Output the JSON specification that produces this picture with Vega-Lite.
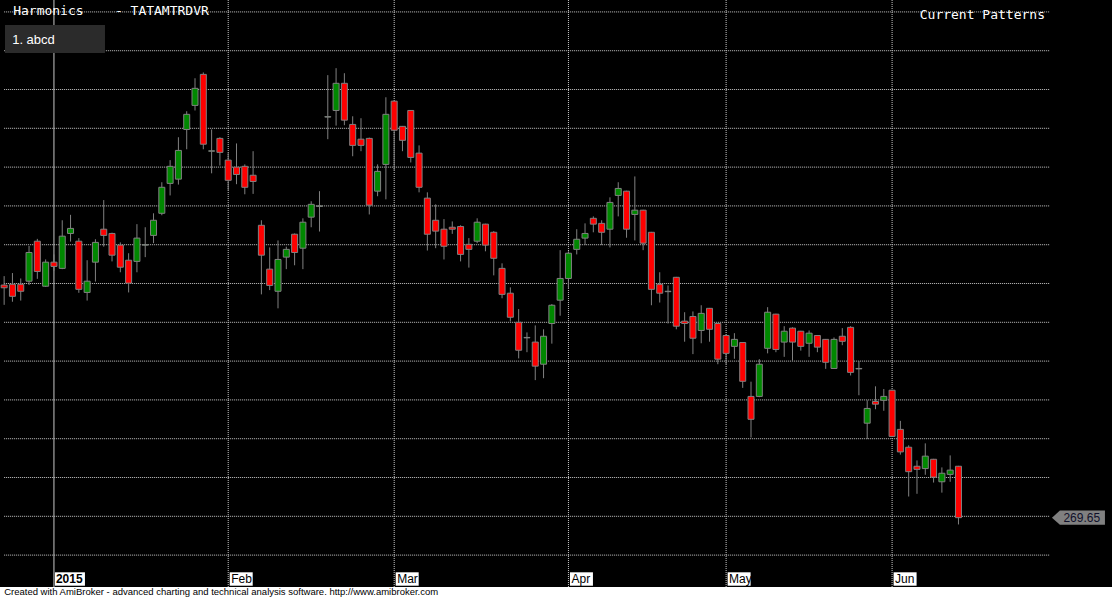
{
"$schema": "https://vega.github.io/schema/vega-lite/v6.json",
"width": 1112, "height": 587,
"autosize": {"type": "none"},
"padding": {"left": 0, "top": 0, "right": 0, "bottom": 12},
"background": "#ffffff",
"config": {"view": {"fill": "#000000", "stroke": null}},
"data": {"values": [
{"d":"2014-12-23","o":329.6,"h":331.9,"l":324.5,"c":328.9},
{"d":"2014-12-24","o":329.8,"h":332.7,"l":325.3,"c":326.7},
{"d":"2014-12-26","o":329.8,"h":331.3,"l":325.6,"c":328.0},
{"d":"2014-12-29","o":330.6,"h":339.7,"l":329.6,"c":338.0},
{"d":"2014-12-30","o":340.9,"h":341.5,"l":331.2,"c":333.1},
{"d":"2014-12-31","o":329.3,"h":336.2,"l":329.1,"c":335.5},
{"d":"2015-01-01","o":335.5,"h":337.5,"l":333.3,"c":334.4},
{"d":"2015-01-02","o":333.9,"h":346.3,"l":333.7,"c":342.2},
{"d":"2015-01-05","o":342.9,"h":347.7,"l":340.8,"c":344.2},
{"d":"2015-01-06","o":340.9,"h":341.7,"l":327.6,"c":328.5},
{"d":"2015-01-07","o":327.7,"h":336.0,"l":325.6,"c":330.6},
{"d":"2015-01-08","o":335.5,"h":341.4,"l":330.5,"c":340.6},
{"d":"2015-01-09","o":344.0,"h":351.5,"l":339.5,"c":342.4},
{"d":"2015-01-12","o":342.9,"h":343.1,"l":335.7,"c":337.3},
{"d":"2015-01-13","o":339.9,"h":340.6,"l":332.9,"c":334.2},
{"d":"2015-01-14","o":336.0,"h":337.8,"l":327.7,"c":330.1},
{"d":"2015-01-15","o":335.7,"h":345.3,"l":332.9,"c":341.7},
{"d":"2015-01-16","o":339.9,"h":344.5,"l":336.8,"c":340.0},
{"d":"2015-01-19","o":342.4,"h":348.1,"l":340.4,"c":346.3},
{"d":"2015-01-20","o":348.1,"h":356.1,"l":347.6,"c":354.8},
{"d":"2015-01-21","o":355.8,"h":361.8,"l":352.7,"c":360.2},
{"d":"2015-01-22","o":356.9,"h":367.7,"l":355.5,"c":364.3},
{"d":"2015-01-23","o":369.7,"h":374.4,"l":364.6,"c":373.6},
{"d":"2015-01-27","o":375.9,"h":382.9,"l":374.6,"c":380.3},
{"d":"2015-01-28","o":383.9,"h":384.4,"l":364.6,"c":365.9},
{"d":"2015-01-29","o":364.1,"h":369.7,"l":358.4,"c":364.2},
{"d":"2015-01-30","o":367.4,"h":367.7,"l":360.4,"c":363.8},
{"d":"2015-02-02","o":361.8,"h":363.6,"l":354.0,"c":356.6},
{"d":"2015-02-03","o":360.0,"h":366.1,"l":355.6,"c":358.1},
{"d":"2015-02-04","o":360.2,"h":360.7,"l":353.0,"c":354.8},
{"d":"2015-02-05","o":357.9,"h":364.1,"l":353.1,"c":356.3},
{"d":"2015-02-06","o":345.0,"h":346.3,"l":327.2,"c":337.3},
{"d":"2015-02-09","o":333.7,"h":339.3,"l":328.3,"c":329.5},
{"d":"2015-02-10","o":328.0,"h":341.1,"l":323.6,"c":336.2},
{"d":"2015-02-11","o":336.8,"h":339.5,"l":333.7,"c":338.8},
{"d":"2015-02-12","o":342.7,"h":342.9,"l":334.7,"c":338.0},
{"d":"2015-02-13","o":339.1,"h":346.8,"l":333.7,"c":345.8},
{"d":"2015-02-16","o":347.1,"h":351.2,"l":344.5,"c":350.4},
{"d":"2015-02-18","o":349.9,"h":353.8,"l":343.4,"c":350.0},
{"d":"2015-02-19","o":372.9,"h":383.7,"l":367.2,"c":373.0},
{"d":"2015-02-20","o":374.6,"h":385.5,"l":370.7,"c":381.6},
{"d":"2015-02-23","o":381.6,"h":384.2,"l":370.8,"c":372.1},
{"d":"2015-02-24","o":371.0,"h":373.1,"l":362.8,"c":365.6},
{"d":"2015-02-25","o":367.2,"h":372.6,"l":364.1,"c":365.6},
{"d":"2015-02-26","o":367.4,"h":367.6,"l":347.8,"c":350.2},
{"d":"2015-02-27","o":353.8,"h":360.7,"l":352.5,"c":358.9},
{"d":"2015-02-28","o":360.7,"h":378.0,"l":351.7,"c":373.6},
{"d":"2015-03-02","o":377.0,"h":377.1,"l":359.2,"c":369.5},
{"d":"2015-03-03","o":370.5,"h":370.6,"l":364.1,"c":366.9},
{"d":"2015-03-04","o":374.6,"h":374.7,"l":361.2,"c":362.5},
{"d":"2015-03-05","o":363.6,"h":365.6,"l":353.5,"c":354.8},
{"d":"2015-03-09","o":352.0,"h":353.5,"l":338.5,"c":342.7},
{"d":"2015-03-10","o":346.3,"h":350.4,"l":339.1,"c":343.5},
{"d":"2015-03-11","o":344.0,"h":346.6,"l":336.2,"c":339.6},
{"d":"2015-03-12","o":344.5,"h":346.0,"l":342.8,"c":344.0},
{"d":"2015-03-13","o":344.7,"h":345.0,"l":335.7,"c":337.5},
{"d":"2015-03-16","o":340.1,"h":341.7,"l":334.1,"c":338.8},
{"d":"2015-03-17","o":340.9,"h":346.8,"l":340.4,"c":345.8},
{"d":"2015-03-18","o":345.3,"h":345.4,"l":338.3,"c":339.9},
{"d":"2015-03-19","o":343.2,"h":343.5,"l":332.1,"c":336.5},
{"d":"2015-03-20","o":333.9,"h":335.2,"l":326.2,"c":327.2},
{"d":"2015-03-23","o":327.5,"h":329.0,"l":320.2,"c":321.3},
{"d":"2015-03-24","o":320.0,"h":323.4,"l":310.7,"c":312.8},
{"d":"2015-03-25","o":316.0,"h":317.4,"l":312.3,"c":316.1},
{"d":"2015-03-26","o":314.9,"h":319.2,"l":305.1,"c":308.7},
{"d":"2015-03-27","o":309.2,"h":318.2,"l":305.6,"c":316.4},
{"d":"2015-03-30","o":319.7,"h":324.7,"l":314.5,"c":324.4},
{"d":"2015-03-31","o":325.7,"h":338.6,"l":321.7,"c":331.3},
{"d":"2015-04-01","o":331.3,"h":338.3,"l":328.7,"c":337.8},
{"d":"2015-04-06","o":338.8,"h":344.0,"l":337.5,"c":341.4},
{"d":"2015-04-07","o":341.7,"h":345.5,"l":339.9,"c":342.9},
{"d":"2015-04-08","o":346.8,"h":347.3,"l":343.2,"c":345.3},
{"d":"2015-04-09","o":345.5,"h":346.3,"l":339.9,"c":343.2},
{"d":"2015-04-10","o":344.0,"h":352.2,"l":339.3,"c":350.9},
{"d":"2015-04-13","o":352.7,"h":356.1,"l":347.3,"c":354.5},
{"d":"2015-04-15","o":353.8,"h":353.9,"l":341.8,"c":344.0},
{"d":"2015-04-16","o":347.8,"h":357.6,"l":341.1,"c":348.9},
{"d":"2015-04-17","o":348.9,"h":349.0,"l":338.6,"c":340.4},
{"d":"2015-04-20","o":343.2,"h":343.3,"l":324.4,"c":328.5},
{"d":"2015-04-21","o":329.8,"h":332.9,"l":325.1,"c":327.5},
{"d":"2015-04-22","o":327.9,"h":329.5,"l":319.7,"c":328.0},
{"d":"2015-04-23","o":331.6,"h":331.7,"l":318.2,"c":319.0},
{"d":"2015-04-24","o":320.3,"h":322.6,"l":315.0,"c":319.7},
{"d":"2015-04-27","o":321.5,"h":322.8,"l":311.8,"c":315.9},
{"d":"2015-04-28","o":317.9,"h":324.4,"l":314.6,"c":322.3},
{"d":"2015-04-29","o":323.6,"h":323.7,"l":315.0,"c":318.2},
{"d":"2015-04-30","o":319.7,"h":319.8,"l":309.2,"c":310.5},
{"d":"2015-05-04","o":316.6,"h":316.7,"l":309.2,"c":312.0},
{"d":"2015-05-05","o":313.8,"h":317.2,"l":310.6,"c":315.6},
{"d":"2015-05-06","o":314.8,"h":314.9,"l":303.1,"c":304.8},
{"d":"2015-05-07","o":300.9,"h":304.7,"l":290.3,"c":295.0},
{"d":"2015-05-08","o":300.9,"h":310.5,"l":300.7,"c":309.2},
{"d":"2015-05-11","o":313.3,"h":323.9,"l":312.0,"c":322.6},
{"d":"2015-05-12","o":322.1,"h":322.2,"l":312.3,"c":313.0},
{"d":"2015-05-13","o":314.9,"h":319.0,"l":311.1,"c":317.7},
{"d":"2015-05-14","o":318.5,"h":318.7,"l":310.1,"c":314.9},
{"d":"2015-05-15","o":317.7,"h":317.8,"l":312.7,"c":313.8},
{"d":"2015-05-18","o":314.6,"h":317.9,"l":311.1,"c":317.2},
{"d":"2015-05-19","o":316.6,"h":316.7,"l":312.3,"c":313.6},
{"d":"2015-05-20","o":315.6,"h":315.7,"l":308.0,"c":309.7},
{"d":"2015-05-21","o":308.1,"h":316.1,"l":308.0,"c":315.6},
{"d":"2015-05-22","o":316.4,"h":318.5,"l":314.1,"c":315.1},
{"d":"2015-05-25","o":318.7,"h":319.0,"l":306.3,"c":307.1},
{"d":"2015-05-26","o":308.0,"h":310.0,"l":301.2,"c":308.1},
{"d":"2015-05-27","o":294.0,"h":299.9,"l":289.9,"c":297.8},
{"d":"2015-05-28","o":299.6,"h":303.5,"l":297.6,"c":298.9},
{"d":"2015-05-29","o":299.9,"h":302.8,"l":297.2,"c":300.9},
{"d":"2015-06-01","o":302.5,"h":302.6,"l":290.5,"c":290.6},
{"d":"2015-06-02","o":292.4,"h":294.6,"l":285.9,"c":286.6},
{"d":"2015-06-03","o":287.8,"h":288.3,"l":275.1,"c":281.5},
{"d":"2015-06-04","o":282.9,"h":284.4,"l":275.8,"c":282.1},
{"d":"2015-06-05","o":282.3,"h":288.8,"l":280.7,"c":285.5},
{"d":"2015-06-08","o":284.7,"h":284.8,"l":278.7,"c":280.1},
{"d":"2015-06-09","o":278.9,"h":282.6,"l":276.1,"c":281.1},
{"d":"2015-06-10","o":280.8,"h":285.7,"l":278.9,"c":281.9},
{"d":"2015-06-11","o":282.9,"h":283.0,"l":267.9,"c":269.65}
]},
"layer": [
{
 "data": {"values": [{"p":260},{"p":270},{"p":280},{"p":290},{"p":300},{"p":310},{"p":320},{"p":330},{"p":340},{"p":350},{"p":360},{"p":370},{"p":380},{"p":390},{"p":400}]},
 "mark": {"type": "rule", "stroke": "#c8c8c8", "strokeWidth": 1, "strokeDash": [1, 1]},
 "encoding": {
  "y": {"field": "p", "type": "quantitative", "scale": {"domain": [251.78, 403.07], "nice": false, "zero": false}, "axis": null},
  "x": {"datum": "2014-12-23", "type": "ordinal", "axis": null},
  "x2": {"datum": "2015-06-26"}
 }
},
{
 "data": {"values": [{"d":"2015-01-01","label":"2015"},{"d":"2015-02-02","label":"Feb"},{"d":"2015-03-02","label":"Mar"},{"d":"2015-04-01","label":"Apr"},{"d":"2015-05-04","label":"May"},{"d":"2015-06-01","label":"Jun"}]},
 "layer": [
  {"transform": [{"filter": "datum.label == '2015'"}],
   "mark": {"type": "rule", "stroke": "#c8c8c8", "strokeWidth": 1},
   "encoding": {"x": {"field": "d", "type": "ordinal", "axis": null}}},
  {"transform": [{"filter": "datum.label != '2015'"}],
   "mark": {"type": "rule", "stroke": "#c8c8c8", "strokeWidth": 1, "strokeDash": [1, 1]},
   "encoding": {"x": {"field": "d", "type": "ordinal", "axis": null}}}
 ]
},
{
 "mark": {"type": "rule", "stroke": "#808080", "strokeWidth": 1},
 "encoding": {
  "x": {"field": "d", "type": "ordinal", "axis": null,
        "scale": {"type": "band", "paddingInner": 0, "paddingOuter": 0, "domain": ["2014-12-23","2014-12-24","2014-12-26","2014-12-29","2014-12-30","2014-12-31","2015-01-01","2015-01-02","2015-01-05","2015-01-06","2015-01-07","2015-01-08","2015-01-09","2015-01-12","2015-01-13","2015-01-14","2015-01-15","2015-01-16","2015-01-19","2015-01-20","2015-01-21","2015-01-22","2015-01-23","2015-01-27","2015-01-28","2015-01-29","2015-01-30","2015-02-02","2015-02-03","2015-02-04","2015-02-05","2015-02-06","2015-02-09","2015-02-10","2015-02-11","2015-02-12","2015-02-13","2015-02-16","2015-02-18","2015-02-19","2015-02-20","2015-02-23","2015-02-24","2015-02-25","2015-02-26","2015-02-27","2015-02-28","2015-03-02","2015-03-03","2015-03-04","2015-03-05","2015-03-09","2015-03-10","2015-03-11","2015-03-12","2015-03-13","2015-03-16","2015-03-17","2015-03-18","2015-03-19","2015-03-20","2015-03-23","2015-03-24","2015-03-25","2015-03-26","2015-03-27","2015-03-30","2015-03-31","2015-04-01","2015-04-06","2015-04-07","2015-04-08","2015-04-09","2015-04-10","2015-04-13","2015-04-15","2015-04-16","2015-04-17","2015-04-20","2015-04-21","2015-04-22","2015-04-23","2015-04-24","2015-04-27","2015-04-28","2015-04-29","2015-04-30","2015-05-04","2015-05-05","2015-05-06","2015-05-07","2015-05-08","2015-05-11","2015-05-12","2015-05-13","2015-05-14","2015-05-15","2015-05-18","2015-05-19","2015-05-20","2015-05-21","2015-05-22","2015-05-25","2015-05-26","2015-05-27","2015-05-28","2015-05-29","2015-06-01","2015-06-02","2015-06-03","2015-06-04","2015-06-05","2015-06-08","2015-06-09","2015-06-10","2015-06-11","2015-06-12","2015-06-15","2015-06-16","2015-06-17","2015-06-18","2015-06-19","2015-06-22","2015-06-23","2015-06-24","2015-06-25","2015-06-26","2015-06-29","2015-06-30","2015-07-01","2015-07-02","2015-07-03","2015-07-06","2015-07-07"]}},
  "y": {"field": "l", "type": "quantitative", "axis": null},
  "y2": {"field": "h"}
 }
},
{
 "mark": {"type": "bar", "width": 6, "stroke": "#808080", "strokeWidth": 1},
 "encoding": {
  "x": {"field": "d", "type": "ordinal", "axis": null},
  "y": {"field": "o", "type": "quantitative", "axis": null},
  "y2": {"field": "c"},
  "fill": {"condition": {"test": "datum.c >= datum.o", "value": "#008800"}, "value": "#ff0000"}
 }
},
{
 "data": {"values": [{"d":"2015-01-01","label":"2015"},{"d":"2015-02-02","label":"Feb"},{"d":"2015-03-02","label":"Mar"},{"d":"2015-04-01","label":"Apr"},{"d":"2015-05-04","label":"May"},{"d":"2015-06-01","label":"Jun"}]},
 "layer": [
  {"transform": [{"filter": "datum.label == '2015'"}],
   "mark": {"type": "bar", "width": 30, "xOffset": 16, "fill": "#ffffff"},
   "encoding": {"x": {"field": "d", "type": "ordinal", "axis": null}, "y": {"datum": 255.57, "type": "quantitative", "axis": null}, "y2": {"datum": 252.11}}},
  {"transform": [{"filter": "datum.label != '2015'"}],
   "mark": {"type": "bar", "width": 23, "xOffset": 13, "fill": "#ffffff"},
   "encoding": {"x": {"field": "d", "type": "ordinal", "axis": null}, "y": {"datum": 255.57, "type": "quantitative", "axis": null}, "y2": {"datum": 252.11}}},
  {"transform": [{"filter": "datum.label == '2015'"}],
   "mark": {"type": "text", "align": "left", "baseline": "middle", "dx": 2, "font": "Liberation Sans", "fontSize": 12, "fontWeight": "bold", "fill": "#000000"},
   "encoding": {"x": {"field": "d", "type": "ordinal", "axis": null}, "y": {"datum": 253.84, "type": "quantitative", "axis": null}, "text": {"field": "label"}}},
  {"transform": [{"filter": "datum.label != '2015'"}],
   "mark": {"type": "text", "align": "left", "baseline": "middle", "dx": 3, "font": "Liberation Sans", "fontSize": 12, "fill": "#000000"},
   "encoding": {"x": {"field": "d", "type": "ordinal", "axis": null}, "y": {"datum": 253.84, "type": "quantitative", "axis": null}, "text": {"field": "label"}}}
 ]
},
{
 "transform": [{"filter": "datum.d == '2015-06-11'"}],
 "layer": [
  {"mark": {"type": "point", "shape": "M -1 0 L -0.7 -0.272 L 1 -0.272 L 1 0.272 L -0.7 0.272 Z", "size": 2809, "filled": true, "fill": "#808080", "opacity": 1, "strokeWidth": 0, "xOffset": 28.7},
   "encoding": {"x": {"datum": "2015-06-26", "type": "ordinal", "axis": null}, "y": {"field": "c", "type": "quantitative", "axis": null}}},
  {"mark": {"type": "text", "align": "center", "baseline": "middle", "dx": 32, "font": "Liberation Sans", "fontSize": 12, "fill": "#10102a"},
   "encoding": {"x": {"datum": "2015-06-26", "type": "ordinal", "axis": null}, "y": {"field": "c", "type": "quantitative", "axis": null}, "text": {"field": "c", "type": "quantitative", "format": ".2f"}}}
 ]
},
{
 "data": {"values": [{"pattern": "1. abcd"}]},
 "layer": [
  {"mark": {"type": "bar", "width": 100, "xOffset": 50.85, "fill": "#2b2b2b"},
   "encoding": {"x": {"datum": "2014-12-23", "type": "ordinal", "axis": null}, "y": {"datum": 396.62, "type": "quantitative", "axis": null}, "y2": {"datum": 389.41}}},
  {"mark": {"type": "text", "align": "left", "baseline": "middle", "dx": 8, "font": "Liberation Sans", "fontSize": 13, "fill": "#ffffff"},
   "encoding": {"x": {"datum": "2014-12-23", "type": "ordinal", "axis": null}, "y": {"datum": 392.76, "type": "quantitative", "axis": null}, "text": {"field": "pattern"}}}
 ]
},
{
 "data": {"values": [{"note": "header"}]},
 "layer": [
  {"mark": {"type": "text", "text": "Harmonics\u00a0\u00a0\u00a0\u00a0-\u00a0TATAMTRDVR", "align": "left", "baseline": "alphabetic", "dx": 9, "font": "DejaVu Sans Mono", "fontSize": 13, "fill": "#ffffff"},
   "encoding": {"x": {"datum": "2014-12-23", "type": "ordinal", "axis": null}, "y": {"datum": 399.2, "type": "quantitative", "axis": null}}},
  {"mark": {"type": "text", "text": "Current Patterns", "align": "right", "baseline": "alphabetic", "dx": -4.8, "font": "DejaVu Sans Mono", "fontSize": 13, "fill": "#ffffff"},
   "encoding": {"x": {"datum": "2015-06-26", "type": "ordinal", "axis": null}, "y": {"datum": 398.17, "type": "quantitative", "axis": null}}},
  {"mark": {"type": "text", "text": "Created with AmiBroker - advanced charting and technical analysis software. http://www.amibroker.com", "align": "left", "baseline": "alphabetic", "dx": 0, "font": "Liberation Sans", "fontSize": 9.5, "fill": "#000000"},
   "encoding": {"x": {"datum": "2014-12-23", "type": "ordinal", "axis": null}, "y": {"datum": 249.72, "type": "quantitative", "axis": null}}}
 ]
}
]
}
